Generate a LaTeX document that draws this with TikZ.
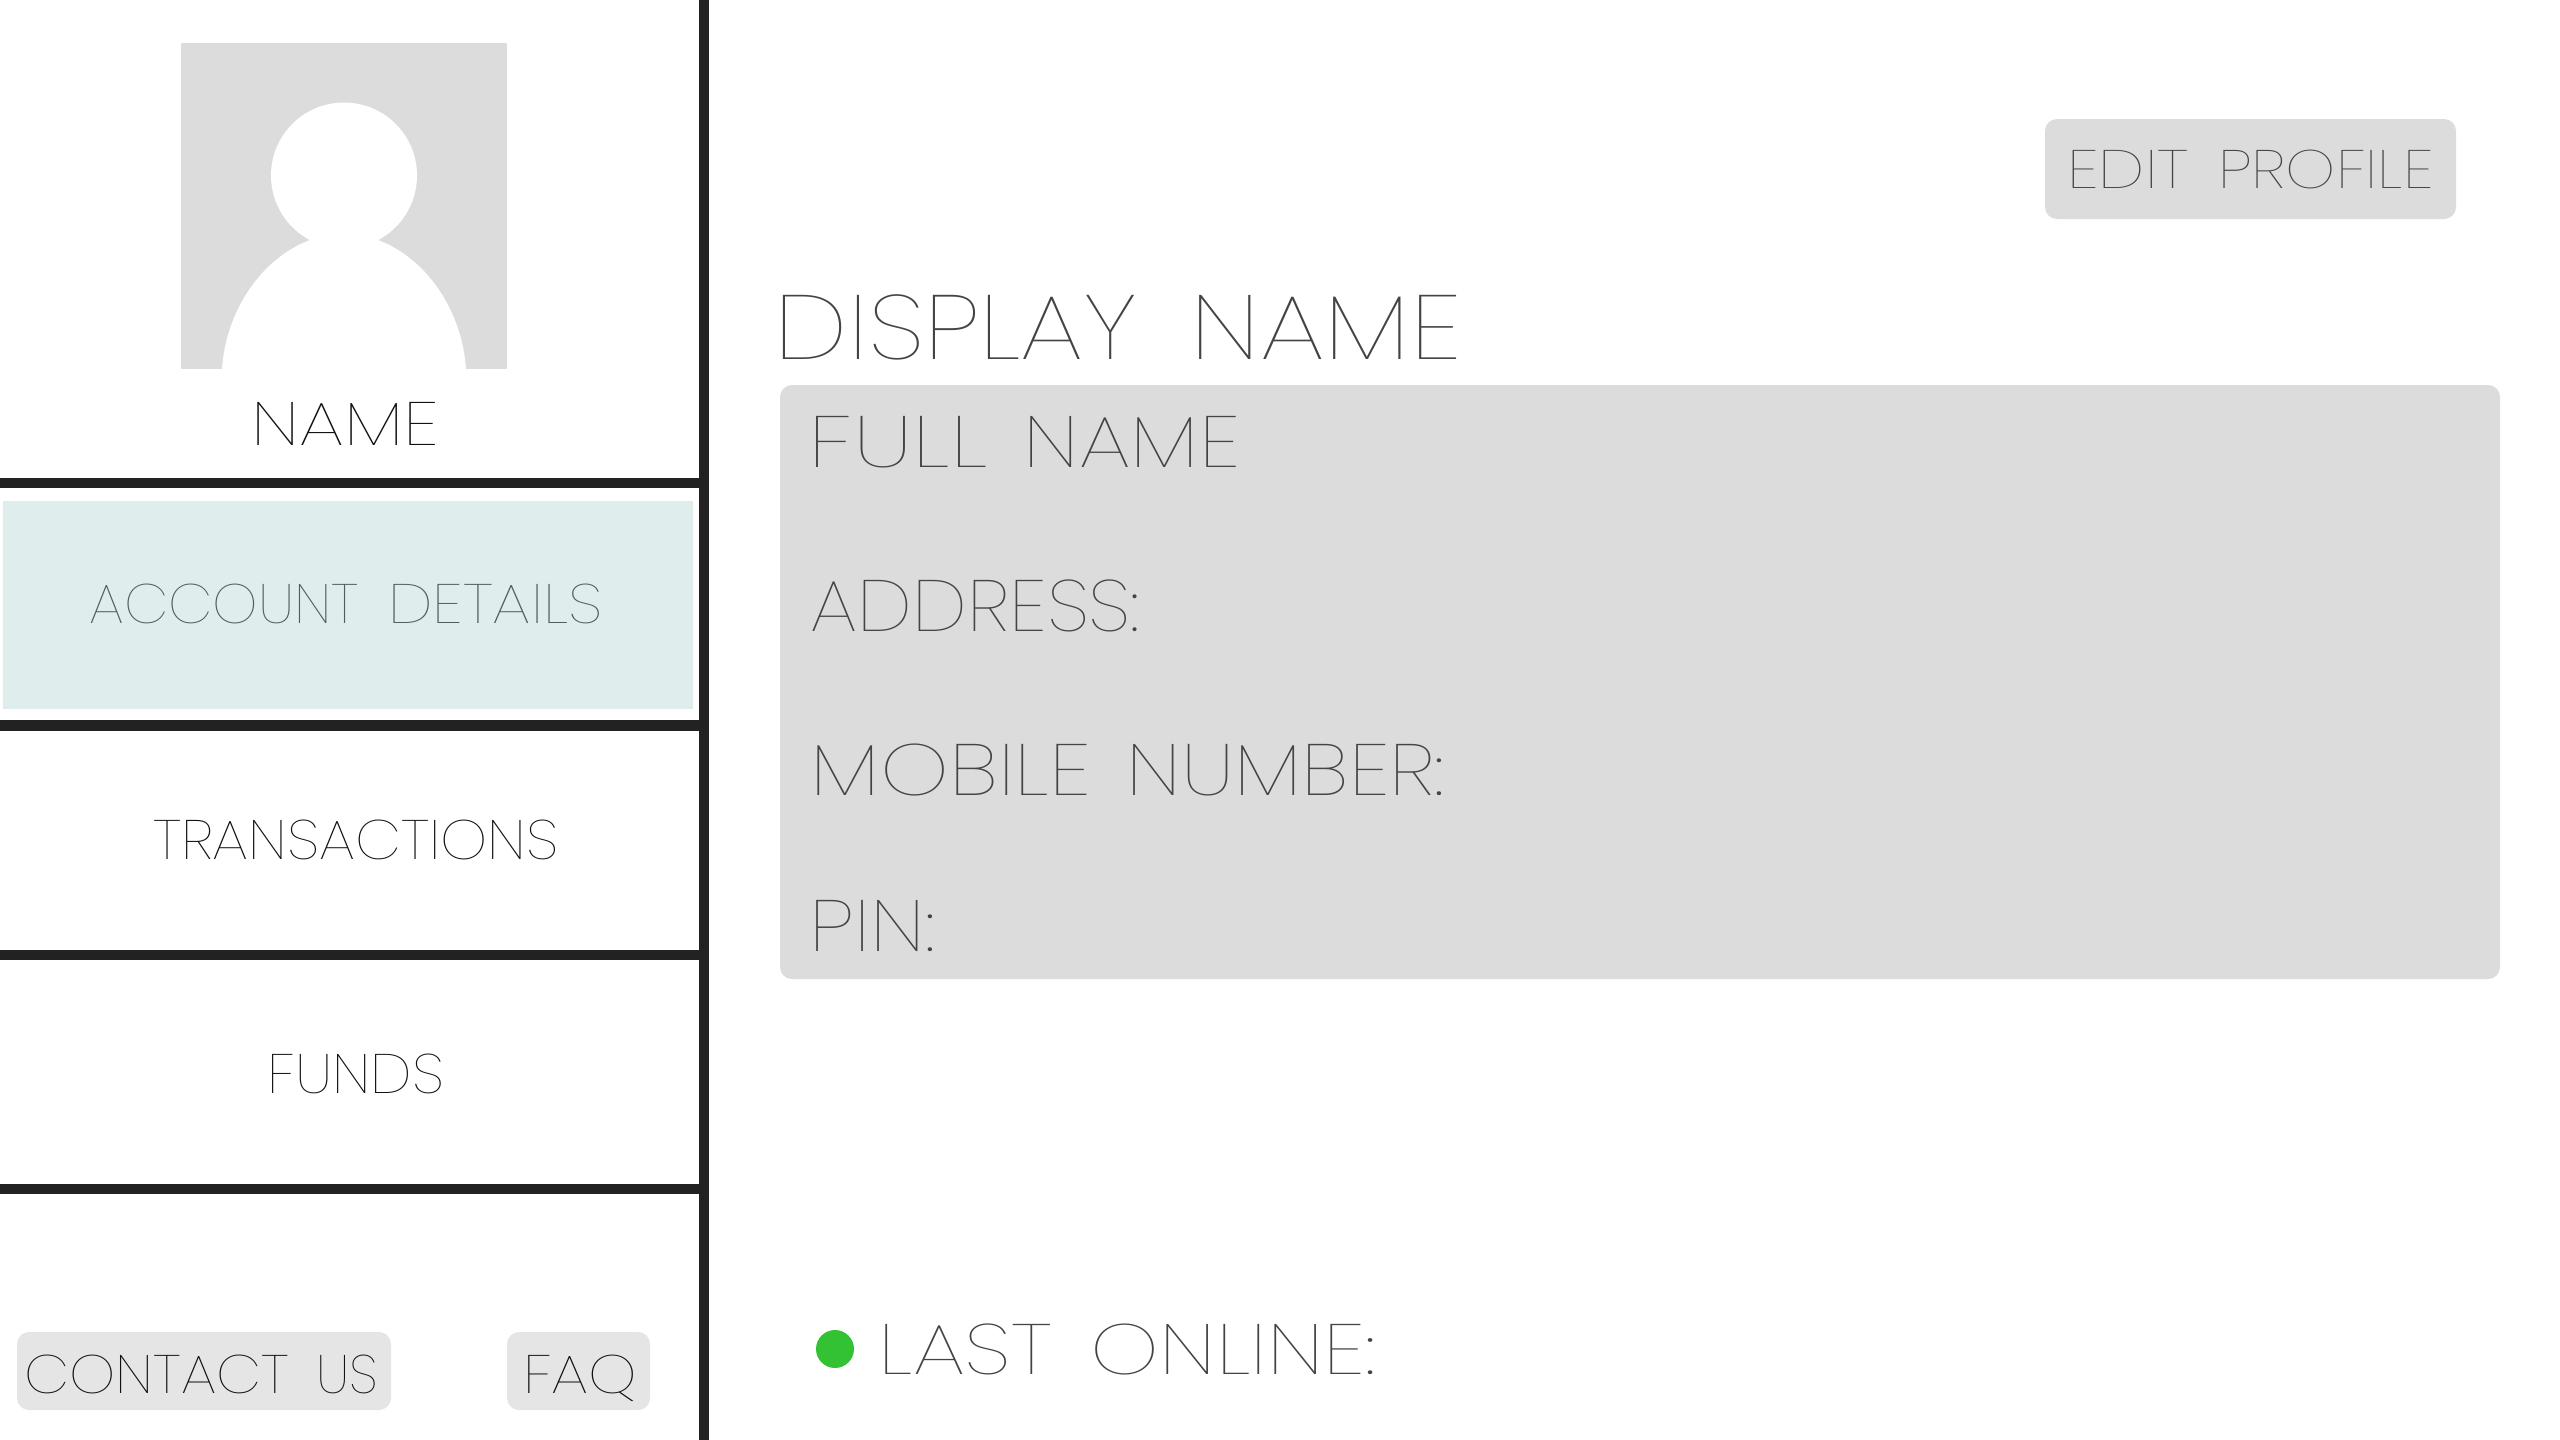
\documentclass[tikz,border=0pt]{standalone}
\usepackage{fontspec}
\newfontfamily\thinf{Poppins Thin}
\definecolor{ink}{HTML}{222222}
\definecolor{greybox}{HTML}{DCDCDC}
\definecolor{lightbox}{HTML}{E5E5E5}
\definecolor{teal}{HTML}{E0EDED}
\definecolor{txtdark}{HTML}{111111}
\definecolor{txtgrey}{HTML}{444444}
\definecolor{txtteal}{HTML}{4F5F5F}
\definecolor{dot}{HTML}{33C233}
\newdimen\pxu \pxu=0.5pt
% word: width, cap height, text (cap height of the font maps onto the given height)
\newcommand{\wrd}[3]{\resizebox{#1\pxu}{#2\pxu}{\raisebox{0pt}[\fontcharht\font`H][0pt]{#3}}}
\newcommand{\wgap}[1]{\hspace{#1\pxu}}
% name, x0, ybase, colour, content
\newcommand{\lbl}[5]{\node[anchor=base west,inner sep=0pt,text=#4] (#1) at (#2,#3) {\thinf #5};}
\tikzset{
  rule/.style={fill=ink,draw=none},
  grey/.style={fill=greybox,draw=none},
  roundgrey/.style={fill=greybox,draw=none,rounded corners=6pt},
  roundlight/.style={fill=lightbox,draw=none,rounded corners=6pt}
}
\begin{document}
\begin{tikzpicture}[x=0.5pt,y=-0.5pt]
\useasboundingbox (0,0) rectangle (2560,1440);
\fill[white] (0,0) rectangle (2560,1440);
% avatar
\fill[grey] (181,43) rectangle (507,369);
\fill[white] (344,175.5) circle [radius=73];
\fill[white] (222,369) .. controls (226,310) and (262,258) .. (310,240) -- (378,240) .. controls (426,258) and (462,310) .. (466,369) -- cycle;
% sidebar selection and rules
\fill[teal] (3,500.5) rectangle (692.5,708.5);
\fill[rule] (699,0) rectangle (709,1440);
\fill[rule] (0,477.5) rectangle (699,487.5);
\fill[rule] (0,720) rectangle (699,730.5);
\fill[rule] (0,950) rectangle (699,960);
\fill[rule] (0,1183.5) rectangle (699,1193.5);
% boxes
\fill[roundlight] (17,1332) rectangle (391,1410);
\fill[roundlight] (507,1332) rectangle (650,1410);
\fill[roundgrey] (2045,119) rectangle (2456,219);
\fill[roundgrey] (780,385) rectangle (2500,979);
\fill[dot] (835,1349) circle [radius=19];
% labels
\lbl{nm}{251}{445}{txtdark}{\wrd{187.6}{43}{NAME}}
\lbl{acc}{89}{623}{txtteal}{\wrd{269.4}{39}{ACCOUNT}\wgap{29.2}\wrd{214.4}{39}{DETAILS}}
\lbl{tr}{152.6}{859}{txtdark}{\wrd{405.4}{39}{TRANSACTIONS}}
\lbl{fu}{267}{1093}{txtdark}{\wrd{176.4}{39}{FUNDS}}
\lbl{cu}{24}{1393}{txtdark}{\wrd{264.4}{38}{CONTACT}\wgap{27.6}\wrd{61.5}{38}{US}}
\lbl{fq}{522.7}{1393}{txtdark}{\wrd{114.3}{38}{FAQ}}
\lbl{dn}{774.5}{359}{txtgrey}{\wrd{363}{64}{DISPLAY}\wgap{52.5}\wrd{271}{64}{NAME}}
\lbl{fn}{808.5}{467}{txtgrey}{\wrd{178.5}{51}{FULL}\wgap{36.5}\wrd{216}{51}{NAME}}
\lbl{ad}{810.5}{631}{txtgrey}{\wrd{329}{51}{ADDRESS:}}
\lbl{mb}{810.5}{795}{txtgrey}{\wrd{280}{51}{MOBILE}\wgap{36}\wrd{317.5}{51}{NUMBER:}}
\lbl{pn}{809.5}{951}{txtgrey}{\wrd{125}{51}{PIN:}}
\lbl{ep}{2066.7}{188}{txtgrey}{\wrd{121.6}{38}{EDIT}\wgap{29.4}\wrd{215.3}{38}{PROFILE}}
\lbl{lo}{878.5}{1374}{txtgrey}{\wrd{173}{50}{LAST}\wgap{39}\wrd{284.5}{50}{ONLINE:}}
\end{tikzpicture}
\end{document}
